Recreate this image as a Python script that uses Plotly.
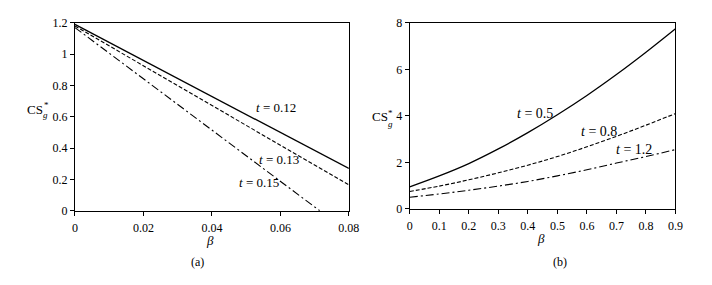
import plotly.graph_objects as go

# ---- data ----
beta_a = [0.0, 0.08]
cs_a_012 = [1.19, 0.27]
cs_a_013 = [1.18, 0.165]
beta_a_015 = [0.0, 0.0715]
cs_a_015 = [1.17, 0.0]

beta_b = [0.0, 0.1, 0.2, 0.3, 0.4, 0.5, 0.6, 0.7, 0.8, 0.9]
cs_b_05 = [0.95, 1.42, 1.95, 2.58, 3.28, 4.05, 4.88, 5.78, 6.74, 7.75]
cs_b_08 = [0.75, 0.98, 1.25, 1.55, 1.88, 2.25, 2.67, 3.12, 3.60, 4.10]
cs_b_12 = [0.50, 0.64, 0.80, 0.98, 1.18, 1.42, 1.68, 1.97, 2.25, 2.55]

W, H = 712, 285
FONT = "Liberation Serif, Times New Roman, serif"
DASH = "4px,2px"
DASHDOT = "8px,3px,2px,3px"

fig = go.Figure()
fig.add_trace(go.Scatter(x=beta_a, y=cs_a_012, mode="lines", line=dict(color="black", width=1.3), xaxis="x", yaxis="y"))
fig.add_trace(go.Scatter(x=beta_a, y=cs_a_013, mode="lines", line=dict(color="black", width=1.1, dash=DASH), xaxis="x", yaxis="y"))
fig.add_trace(go.Scatter(x=beta_a_015, y=cs_a_015, mode="lines", line=dict(color="black", width=1.1, dash=DASHDOT), xaxis="x", yaxis="y"))

fig.add_trace(go.Scatter(x=beta_b, y=cs_b_05, mode="lines", line=dict(color="black", width=1.3, shape="spline"), xaxis="x2", yaxis="y2"))
fig.add_trace(go.Scatter(x=beta_b, y=cs_b_08, mode="lines", line=dict(color="black", width=1.1, dash=DASH, shape="spline"), xaxis="x2", yaxis="y2"))
fig.add_trace(go.Scatter(x=beta_b, y=cs_b_12, mode="lines", line=dict(color="black", width=1.1, dash=DASHDOT, shape="spline"), xaxis="x2", yaxis="y2"))

ax = dict(showline=True, mirror=True, linecolor="black", linewidth=1, ticks="outside",
          ticklen=4, tickcolor="black", showgrid=False, zeroline=False,
          tickfont=dict(family=FONT, size=12, color="black"))

def px(x): return x / W
def py(y): return 1 - y / H

fig.update_layout(
    width=W, height=H, margin=dict(l=0, r=0, t=0, b=0),
    plot_bgcolor="white", paper_bgcolor="white", showlegend=False,
    xaxis=dict(ax, domain=[px(73.3), px(352.3)], range=[0, 0.08], tickvals=[0, 0.02, 0.04, 0.06, 0.08],
               ticktext=["0", "0.02", "0.04", "0.06", "0.08"], anchor="y", ticklabelstandoff=2),
    yaxis=dict(ax, domain=[py(214.3), py(16.7)], range=[0, 1.2], tickvals=[0, 0.2, 0.4, 0.6, 0.8, 1.0, 1.2],
               ticktext=["0", "0.2", "0.4", "0.6", "0.8", "1", "1.2"], anchor="x"),
    xaxis2=dict(ax, domain=[px(414.3), px(685)], range=[0, 0.9], tickvals=beta_b,
                ticktext=["0", "0.1", "0.2", "0.3", "0.4", "0.5", "0.6", "0.7", "0.8", "0.9"], anchor="y2",
                ticklabelstandoff=2),
    yaxis2=dict(ax, domain=[py(212.3), py(16.7)], range=[0, 8], tickvals=[0, 2, 4, 6, 8], anchor="x2"),
)

f = dict(family=FONT, size=13, color="black")
ann = []
def lab(x, y, text, xref="paper", yref="paper", xanchor="center", size=13):
    ann.append(dict(x=x, y=y, xref=xref, yref=yref, text=text, showarrow=False,
                    xanchor=xanchor, yanchor="middle", font=dict(f, size=size), borderpad=0))

lab(0.0525, 0.66, "<i>t</i> = 0.12", "x", "y", "left")
lab(0.0535, 0.325, "<i>t</i> = 0.13", "x", "y", "left")
lab(0.0475, 0.178, "<i>t</i> = 0.15", "x", "y", "left")
lab(0.36, 4.1, "<i>t</i> = 0.5", "x2", "y2", "left", 14)
lab(0.577, 3.32, "<i>t</i> = 0.8", "x2", "y2", "left", 14)
lab(0.694, 2.56, "<i>t</i> = 1.2", "x2", "y2", "left", 14)

lab(px(211), py(246), "<i>β</i>", size=13)
lab(px(548), py(243), "<i>β</i>", size=13)
lab(px(198), py(268), "(a)", size=12)
lab(px(567), py(268), "(b)", size=12)

# y-axis titles: CS with stacked * and g
lab(px(42), py(107.5), "CS", xanchor="right", size=13)
lab(px(44), py(103), "*", size=9)
lab(px(43.5), py(114), "<i>g</i>", size=9)
lab(px(393), py(115), "CS", xanchor="right", size=13)
lab(px(395), py(111), "*", size=9)
lab(px(394.5), py(123.5), "<i>g</i>", size=9)

fig.update_layout(annotations=ann)
fig.write_html("out.html")
